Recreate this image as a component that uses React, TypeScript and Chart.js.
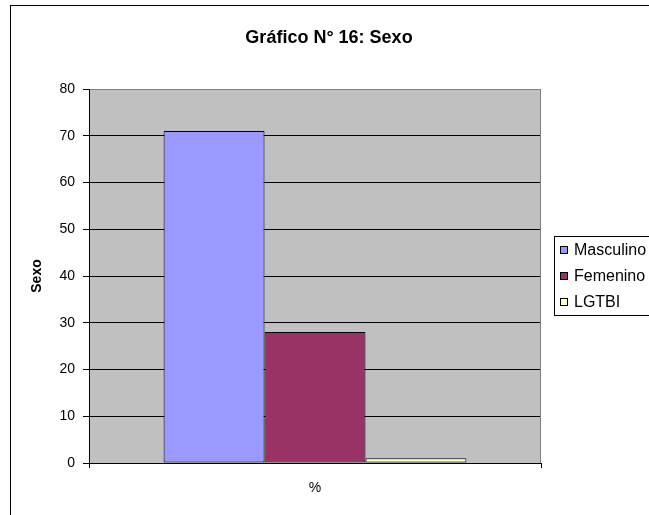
import React, { useEffect, useRef } from "react";
import { Chart, registerables } from "chart.js";

Chart.register(...registerables);

const categories = ["%"];
const seriesNames = ["Masculino", "Femenino", "LGTBI"];
const masculino = [71];
const femenino = [28];
const lgtbi = [1];
const seriesColors = ["#9999FF", "#993366", "#FFFFCC"];
const yMin = 0;
const yMax = 80;
const yStep = 10;
const titleText = "Gráfico N° 16: Sexo";
const yAxisTitle = "Sexo";

const FONT = "'Liberation Sans', Arial, sans-serif";

const framePlugin = {
  id: "frame",
  beforeDraw(chart: any) {
    const { ctx, chartArea, width, height } = chart;
    ctx.save();
    ctx.fillStyle = "#ffffff";
    ctx.fillRect(0, 0, width, height);
    ctx.strokeStyle = "#000000";
    ctx.lineWidth = 1;
    ctx.strokeRect(10.5, 5.5, width + 20, height + 20);
    ctx.fillStyle = "#C0C0C0";
    ctx.fillRect(chartArea.left, chartArea.top, chartArea.right - chartArea.left, chartArea.bottom - chartArea.top);
    ctx.restore();
  },
  beforeDatasetsDraw(chart: any) {
    const { ctx, chartArea } = chart;
    ctx.save();
    ctx.strokeStyle = "#808080";
    ctx.lineWidth = 1;
    ctx.beginPath();
    ctx.moveTo(Math.round(chartArea.right) - 0.5, chartArea.top);
    ctx.lineTo(Math.round(chartArea.right) - 0.5, chartArea.bottom);
    ctx.stroke();
    ctx.restore();
  },
  afterDraw(chart: any) {
    const { ctx } = chart;
    ctx.save();
    // title
    ctx.fillStyle = "#000";
    ctx.font = `bold 18px ${FONT}`;
    ctx.textAlign = "center";
    ctx.textBaseline = "middle";
    ctx.fillText(titleText, 329, 38);
    // legend
    ctx.strokeStyle = "#000";
    ctx.lineWidth = 1;
    ctx.fillStyle = "#fff";
    ctx.fillRect(554.5, 236.5, 200, 79);
    ctx.strokeRect(554.5, 236.5, 200, 79);
    ctx.textAlign = "left";
    ctx.font = `16px ${FONT}`;
    chart.data.datasets.forEach((ds: any, i: number) => {
      const y = 250 + i * 26;
      ctx.fillStyle = ds.backgroundColor;
      ctx.fillRect(560.5, y - 3.5, 7, 7);
      ctx.strokeRect(560.5, y - 3.5, 7, 7);
      ctx.fillStyle = "#000";
      ctx.fillText(ds.label, 574, y + 1);
    });
    ctx.restore();
  },
};

export default function App() {
  const ref = useRef<HTMLCanvasElement | null>(null);
  useEffect(() => {
    document.body.style.margin = "0";
    const canvas = ref.current;
    if (!canvas) return;
    const values = [masculino, femenino, lgtbi];
    const chart = new Chart(canvas, {
      type: "bar",
      data: {
        labels: categories,
        datasets: seriesNames.map((name, i) => ({
          label: name,
          data: values[i],
          backgroundColor: seriesColors[i],
          borderColor: "#000000",
          borderWidth: 1,
          borderSkipped: false,
          categoryPercentage: 0.67,
          barPercentage: 1.0,
        })),
      },
      options: {
        responsive: false,
        animation: false,
        devicePixelRatio: 1,
        layout: { padding: { left: 29, right: 108, top: 89, bottom: 0 } },
        plugins: {
          legend: { display: false },
          title: { display: false },
          tooltip: { enabled: false },
        },
        scales: {
          x: {
            offset: true,
            grid: { drawOnChartArea: false, color: "#000", tickLength: 5, offset: true },
            border: { color: "#000" },
            ticks: { color: "#000", font: { family: FONT, size: 14 }, padding: 12 },
            afterFit: (s: any) => {
              s.height = 52;
            },
          },
          y: {
            min: yMin,
            max: yMax,
            ticks: { stepSize: yStep, color: "#000", font: { family: FONT, size: 14 }, padding: 8 },
            grid: {
              color: (c: any) => (c.tick && c.tick.value === yMax ? "#808080" : "#000"),
              tickColor: "#000",
              tickLength: 6,
            },
            border: { color: "#000" },
            title: {
              display: true,
              text: yAxisTitle,
              color: "#000",
              font: { family: FONT, size: 14, weight: "bold" },
              padding: 0,
            },
            afterFit: (s: any) => {
              s.width = 60;
            },
          },
        },
      },
      plugins: [framePlugin],
    } as any);
    return () => chart.destroy();
  }, []);
  return (
    <canvas
      ref={ref}
      width={649}
      height={515}
      style={{ position: "absolute", left: 0, top: 0, width: 649, height: 515, display: "block" }}
    />
  );
}
